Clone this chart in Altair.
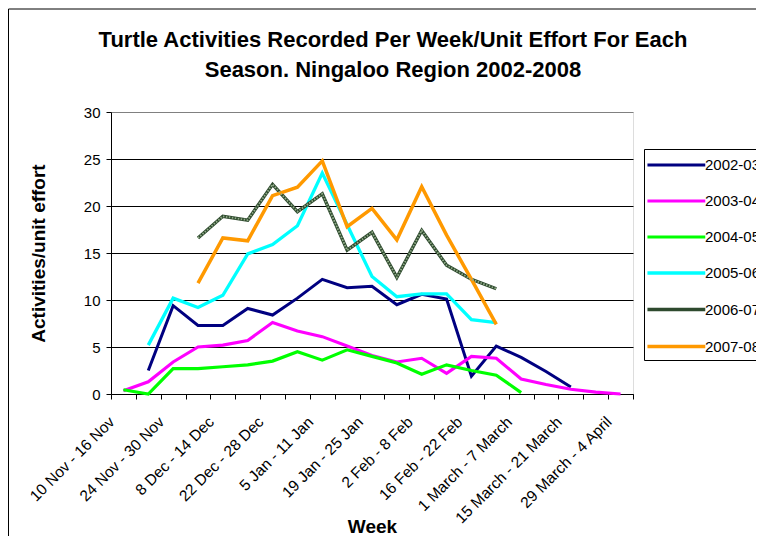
import json
import altair as alt
import pandas as pd

weeks = [
    "10 Nov - 16 Nov", "17 Nov - 23 Nov", "24 Nov - 30 Nov", "1 Dec - 7 Dec",
    "8 Dec - 14 Dec", "15 Dec - 21 Dec", "22 Dec - 28 Dec", "29 Dec - 4 Jan",
    "5 Jan - 11 Jan", "12 Jan - 18 Jan", "19 Jan - 25 Jan", "26 Jan - 1 Feb",
    "2 Feb - 8 Feb", "9 Feb - 15 Feb", "16 Feb - 22 Feb", "23 Feb - 29 Feb",
    "1 March - 7 March", "8 March - 14 March", "15 March - 21 March",
    "22 March - 28 March", "29 March - 4 April",
]

seasons = ["2002-03", "2003-04", "2004-05", "2005-06", "2006-07", "2007-08"]

s2002_03 = [None, 2.5, 9.4, 7.3, 7.3, 9.1, 8.4, 10.2, 12.2, 11.3, 11.45, 9.5,
            10.6, 10.1, 1.9, 5.1, 3.9, 2.4, 0.75, None, None]
s2003_04 = [0.35, 1.3, 3.4, 5.0, 5.2, 5.7, 7.6, 6.7, 6.1, 5.1, 4.1, 3.4,
            3.8, 2.2, 4.0, 3.8, 1.6, 1.0, 0.5, 0.2, 0.0]
s2004_05 = [0.45, 0.0, 2.7, 2.7, 2.9, 3.1, 3.5, 4.5, 3.6, 4.7, 4.0, 3.3,
            2.1, 3.1, 2.5, 2.0, 0.15, None, None, None, None]
s2005_06 = [None, 5.2, 10.2, 9.2, 10.5, 14.9, 15.9, 17.9, 23.5, 18.0, 12.5, 10.35,
            10.65, 10.65, 7.9, 7.6, None, None, None, None, None]
s2006_07 = [None, None, None, 16.6, 18.9, 18.5, 22.3, 19.4, 21.3, 15.3, 17.2, 12.4,
            17.4, 13.7, 12.2, 11.2, None, None, None, None, None]
s2007_08 = [None, None, None, 11.8, 16.6, 16.3, 21.1, 22.0, 24.8, 17.8, 19.75, 16.4,
            22.05, 16.9, 12.2, 7.4, None, None, None, None, None]

series = [s2002_03, s2003_04, s2004_05, s2005_06, s2006_07, s2007_08]
colors = ["#000080", "#FF00FF", "#00FF00", "#00FFFF", "#2E4A2E", "#FF9900"]
widths = [3, 3.5, 1.0, 3.5, 5, 3]

rows = []
for season, vals in zip(seasons, series):
    for w, v in zip(weeks, vals):
        if v is not None:
            rows.append({"Week": w, "Season": season, "Value": v})
df = pd.DataFrame(rows)

FONT = "Liberation Sans"
label_expr = "indexof(" + json.dumps(weeks) + ", datum.value) % 2 == 0 ? datum.value : ''"

x_enc = alt.X(
    "Week:N",
    sort=weeks,
    bandPosition=0.5,
    scale=alt.Scale(type="band", domain=weeks, paddingInner=0, paddingOuter=0),
    axis=alt.Axis(
        title="Week", labelExpr=label_expr, labelAngle=-45, labelAlign="right",
        labelBaseline="middle", labelOffset=-12, labelPadding=20, labelOverlap=False,
        tickBand="extent", tickSize=5, tickColor="black", domainColor="black",
        grid=False, labelFontSize=15.5, labelFont=FONT, labelColor="black",
        titleFontSize=19, titleFont=FONT, titleFontWeight="bold", titleColor="black",
        titleX=261, titleY=138, titleBaseline="alphabetic", titleAlign="center",
        labelLimit=0,
    ),
)
y_enc = alt.Y(
    "Value:Q",
    scale=alt.Scale(domain=[0, 30], nice=False),
    axis=alt.Axis(
        title="Activities/unit effort", values=[0, 5, 10, 15, 20, 25, 30],
        grid=True,
        gridColor=alt.condition("datum.value == 30", alt.value("#808080"), alt.value("black")),
        tickSize=5, tickColor="black", domainColor="black", labelPadding=6,
        labelFontSize=15, labelFont=FONT, labelColor="black",
        titleFontSize=19, titleFont=FONT, titleFontWeight="bold", titleColor="black",
        titleX=-73, titleY=141, titleBaseline="middle", titleAlign="center",
    ),
)

legend = alt.Legend(
    orient="none", legendX=533, legendY=37, title=None,
    strokeColor="black", fillColor="white", padding=5,
    symbolType="M-1.4,0H4.8", symbolSize=348, labelFontSize=15, labelFont=FONT,
    labelColor="black", labelOffset=33, rowPadding=17,
)

lines = alt.Chart(df).mark_line().encode(
    x=x_enc,
    y=y_enc,
    color=alt.Color("Season:N", scale=alt.Scale(domain=seasons, range=colors), legend=legend),
    strokeWidth=alt.StrokeWidth("Season:N", scale=alt.Scale(domain=seasons, range=widths), legend=legend),
    order=alt.Order("Season:N"),
)

texture = alt.Chart(df).transform_filter(alt.datum.Season == "2006-07").mark_line(
    color="#93AD8A", strokeWidth=1.8, strokeDash=[1.5, 1.5]
).encode(x=alt.X("Week:N", sort=weeks, bandPosition=0.5), y="Value:Q")

frame = alt.Data(values=[{"k": 1}])
border_top = alt.Chart(frame).mark_rule(color="black", strokeWidth=1).encode(
    x=alt.value(-102.5), x2=alt.value(700), y=alt.value(-103)
)
border_left = alt.Chart(frame).mark_rule(color="black", strokeWidth=1).encode(
    x=alt.value(-102.5), y=alt.value(-103), y2=alt.value(460)
)

chart = alt.layer(border_top, border_left, lines, texture).properties(
    width=522,
    height=282,
    autosize=alt.AutoSizeParams(type="none"),
    padding={"left": 103, "top": 104, "right": 123, "bottom": 142},
    title=alt.Title(
        text=["Turtle Activities Recorded Per Week/Unit Effort For Each",
              "Season. Ningaloo Region 2002-2008"],
        fontSize=22, font=FONT, fontWeight="bold", color="black",
        anchor="middle", frame="group", dx=21, dy=101.5, offset=28, lineHeight=30,
    ),
).configure_view(stroke="#808080", strokeWidth=1).configure(font=FONT, background="white")

chart.save("out.html", embed_options={"renderer": "svg", "actions": False})
